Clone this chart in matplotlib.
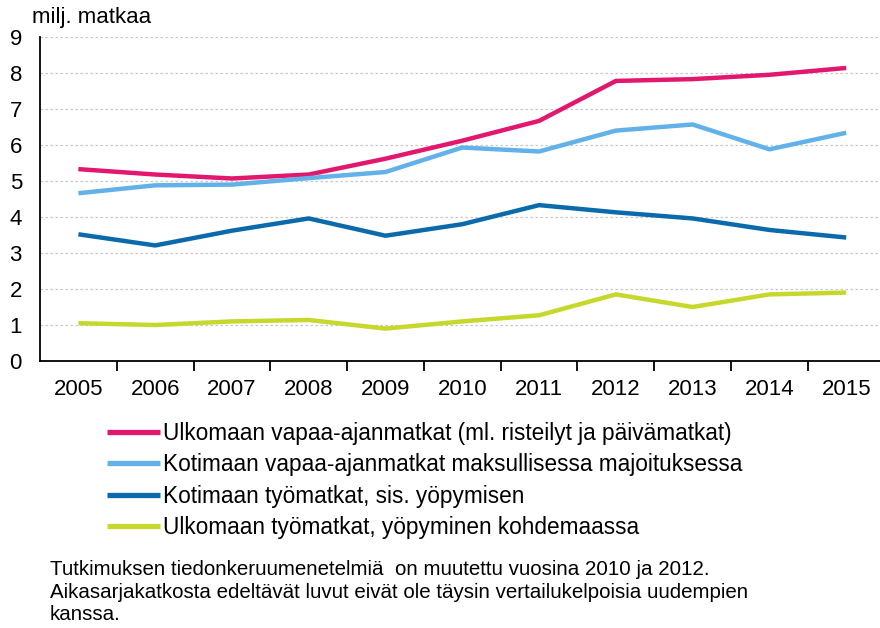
import matplotlib
matplotlib.use("Agg")
import matplotlib.pyplot as plt

plt.rcParams['font.family'] = ['Liberation Sans', 'DejaVu Sans']

years = [2005, 2006, 2007, 2008, 2009, 2010, 2011, 2012, 2013, 2014, 2015]

ulk_vapaa = [5.33, 5.18, 5.07, 5.18, 5.62, 6.12, 6.67, 7.78, 7.83, 7.95, 8.14]
kot_vapaa = [4.66, 4.88, 4.9, 5.08, 5.25, 5.93, 5.82, 6.4, 6.57, 5.88, 6.34]
kot_tyo = [3.52, 3.21, 3.62, 3.96, 3.48, 3.8, 4.33, 4.13, 3.96, 3.64, 3.43]
ulk_tyo = [1.05, 1.0, 1.1, 1.14, 0.9, 1.1, 1.27, 1.85, 1.5, 1.85, 1.9]

labels = [
    "Ulkomaan vapaa-ajanmatkat (ml. risteilyt ja päivämatkat)",
    "Kotimaan vapaa-ajanmatkat maksullisessa majoituksessa",
    "Kotimaan työmatkat, sis. yöpymisen",
    "Ulkomaan työmatkat, yöpyminen kohdemaassa",
]
colors = ['#e2176e', '#62b1e9', '#0a6aab', '#c6d82c']

fig = plt.figure(figsize=(8.8, 6.28), dpi=100)
ax = fig.add_axes([40 / 880, 1 - 361 / 628, 840 / 880, 324 / 628])

x = list(range(len(years)))
handles = []
for vals, c, lab in zip([ulk_vapaa, kot_vapaa, kot_tyo, ulk_tyo], colors, labels):
    h, = ax.plot(x, vals, color=c, lw=3.2, label=lab, solid_capstyle='butt')
    handles.append(h)

ax.set_ylim(0, 9)
ax.set_xlim(-0.5, 10.44)
ax.set_yticks(range(10))
ax.yaxis.grid(True, color='#c8c8c8', linestyle=(0, (2, 2)), lw=0.9)
ax.set_axisbelow(True)

ax.set_xticks([i + 0.5 for i in range(10)])
ax.set_xticklabels([])
ax.set_xticks(x, minor=True)
ax.set_xticklabels([str(y) for y in years], minor=True, fontsize=16)
ax.tick_params(axis='x', which='major', length=7, width=1.3, direction='out', color='black')
ax.tick_params(axis='x', which='minor', length=0, pad=13)
ax.tick_params(axis='y', length=0, labelsize=16, pad=13)

for s in ['top', 'right']:
    ax.spines[s].set_visible(False)
ax.spines['left'].set_linewidth(1.3)
ax.spines['bottom'].set_linewidth(1.3)

fig.text(32 / 880, 1 - 18 / 628, "milj. matkaa", fontsize=16, va='center', ha='left')

leg = fig.legend(handles=handles, loc='upper left', bbox_to_anchor=(107 / 880, 1 - 422 / 628),
                 frameon=False, fontsize=16.3, handlelength=2.35, handletextpad=0.12,
                 labelspacing=0.37, borderaxespad=0, borderpad=0)
for ln in leg.get_lines():
    ln.set_linewidth(3.8)

notes = ("Tutkimuksen tiedonkeruumenetelmiä  on muutettu vuosina 2010 ja 2012.\n"
         "Aikasarjakatkosta edeltävät luvut eivät ole täysin vertailukelpoisia uudempien\n"
         "kanssa.")
fig.text(50 / 880, 1 - 560 / 628, notes, fontsize=14.8, va='top', ha='left', linespacing=1.25)

fig.savefig("out.png", dpi=100)
